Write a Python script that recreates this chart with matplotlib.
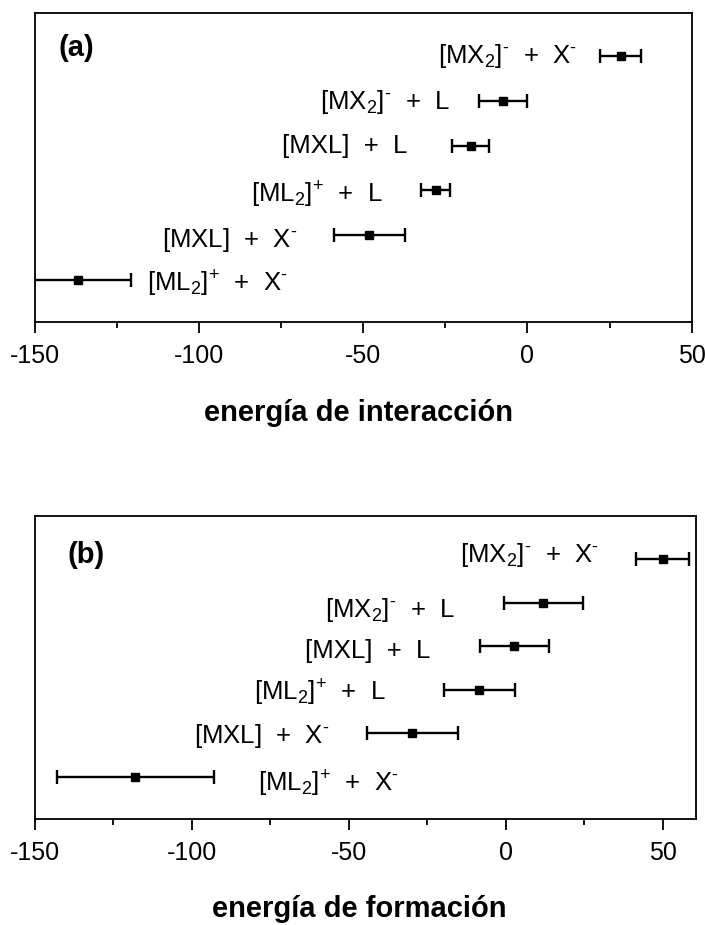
import matplotlib
matplotlib.use("Agg")
import matplotlib.pyplot as plt
from matplotlib.ticker import MultipleLocator

plt.rcParams.update({
    "font.family": ["Liberation Sans", "DejaVu Sans"],
    "mathtext.fontset": "custom",
    "mathtext.rm": "Liberation Sans",
    "mathtext.it": "Liberation Sans:italic",
    "mathtext.bf": "Liberation Sans:bold",
    "axes.linewidth": 1.3,
    "axes.unicode_minus": False,
})

# species, listed top to bottom
species = [
    r"[MX$_2$]$^{\text{-}}$  +  X$^{\text{-}}$",
    r"[MX$_2$]$^{\text{-}}$  +  L",
    r"[MXL]  +  L",
    r"[ML$_2$]$^{+}$  +  L",
    r"[MXL]  +  X$^{\text{-}}$",
    r"[ML$_2$]$^{+}$  +  X$^{\text{-}}$",
]

inter_val = [28.4, -7.5, -17.3, -28.0, -48.2, -137.0]
inter_err = [6.3, 7.4, 5.7, 4.3, 10.8, 16.2]

form_val = [50.0, 12.0, 2.7, -8.4, -29.8, -118.0]
form_err = [8.5, 12.5, 11.0, 11.2, 14.5, 25.0]

# label placement (data x, alignment, vertical nudge in row units)
lab_a_x = [15.0, -23.5, -36.5, -44.0, -70.0, -116.0]
lab_a_dy = [0.0, 0.02, 0.02, 0.11, 0.11, 0.09]
lab_b_x = [29.7, -16.2, -24.1, -38.4, -56.3, -78.8]
lab_b_dy = [-0.09, 0.16, 0.11, 0.07, 0.07, 0.16]
lab_ha = ["right"] * 5 + ["left"]

rows = list(range(len(species), 0, -1))

fig = plt.figure(figsize=(7.05, 9.25), dpi=100)
ax_a = fig.add_axes([0.0496, 0.6522, 0.9315, 0.3334])
ax_b = fig.add_axes([0.0496, 0.1143, 0.9372, 0.3282])


def panel(ax, vals, errs, lab_x, lab_dy, xlim, ylim, tag, tag_xy):
    ax.errorbar(vals, rows, xerr=errs, fmt="s", color="black",
                ms=6, elinewidth=1.7, capsize=5, capthick=1.7)
    for name, x, y, dy, ha in zip(species, lab_x, rows, lab_dy, lab_ha):
        ax.text(x, y - dy, name, ha=ha, va="center", fontsize=18.5)
    ax.set_xlim(*xlim)
    ax.set_ylim(*ylim)
    ax.set_yticks([])
    ax.xaxis.set_major_locator(MultipleLocator(50))
    ax.xaxis.set_minor_locator(MultipleLocator(25))
    ax.tick_params(axis="x", which="major", direction="out", length=8,
                   width=1.3, labelsize=18, pad=8)
    ax.tick_params(axis="x", which="minor", direction="out", length=4.5,
                   width=1.3)
    ax.text(tag_xy[0], tag_xy[1], tag, transform=ax.transAxes,
            ha="center", va="center", fontsize=21, fontweight="bold")


panel(ax_a, inter_val, inter_err, lab_a_x, lab_a_dy,
      (-150, 50), (0.07, 6.95), "(a)", (0.0624, 0.8875))
panel(ax_b, form_val, form_err, lab_b_x, lab_b_dy,
      (-150, 60.5), (0.02, 7.0), "(b)", (0.077, 0.8706))

fig.text(0.509, 1 - 413 / 925, "energía de interacción",
         ha="center", va="center", fontsize=21, fontweight="bold")
fig.text(0.509, 1 - 909 / 925, "energía de formación",
         ha="center", va="center", fontsize=21, fontweight="bold")

fig.savefig("out.png", dpi=100, facecolor="white")
plt.close(fig)
